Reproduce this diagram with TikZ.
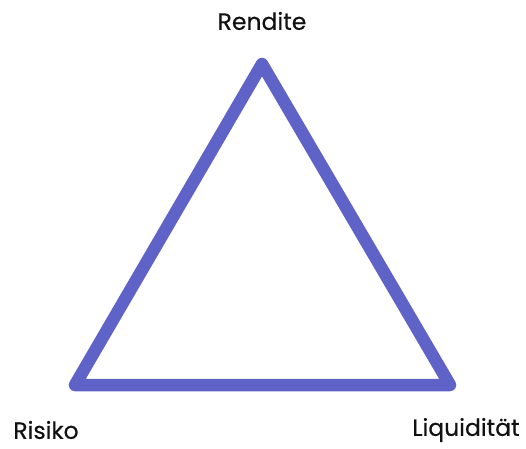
\documentclass[tikz,border=0pt]{standalone}
\usepackage{fontspec}
\setmainfont{Poppins}[FakeBold=0.4]
\usepackage{xcolor}
\definecolor{Triblue}{HTML}{5F62C6}
\definecolor{Ink}{HTML}{111111}
\begin{document}
\begin{tikzpicture}[
    x=1pt,y=1pt,
    edge/.style={draw=Triblue,line width=12.5pt,line join=round,line cap=round},
    corner/.style={text=Ink,font=\fontsize{23.5}{27}\selectfont,inner sep=0pt}
]
\useasboundingbox (0,0) rectangle (526,448);
\coordinate (top) at (262,384);
\coordinate (left) at (75,63);
\coordinate (right) at (450,63);
\draw[edge] (top) -- (left) -- (right) -- cycle;
\node[corner] (rendite) at (262,427) {Rendite};
\node[corner] (risiko) at (46,18) {Risiko};
\node[corner] (liquiditaet) at (466,18) {Liquidität};
\end{tikzpicture}
\end{document}
